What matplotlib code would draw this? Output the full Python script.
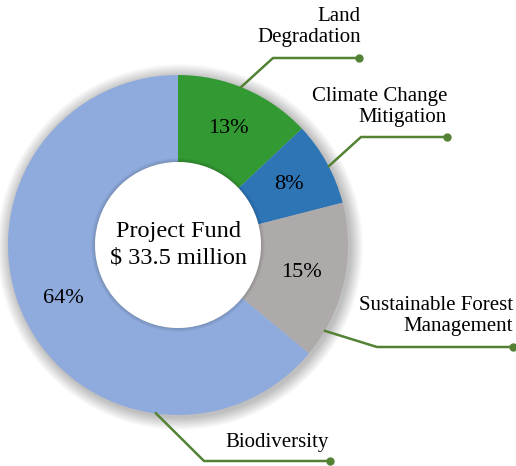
import numpy as np
import matplotlib
matplotlib.use('Agg')
import matplotlib.pyplot as plt
from matplotlib.patches import Circle

# Project fund shares by focal area
areas = ["Land\nDegradation", "Climate Change\nMitigation",
         "Sustainable Forest\nManagement", "Biodiversity"]
shares = [13, 8, 15, 64]
colors = ["#339933", "#2E75B6", "#AEAAAA", "#8FAADC"]
center_label = "Project Fund\n$ 33.5 million"

# leader-line layout: anchor angle on rim, elbow point, end point, text anchor
anchor_deg = [68.4, 27.5, -30.4, -97.8]
elbows = [(273, 58), (361, 137), (377, 347), (204, 461)]
ends = [(359, 58), (447, 137), (513, 347), (330, 461)]
text_pos = [(361, 27), (447, 107), (513, 316), (329, 442)]

W, H = 516, 466
cx, cy, R = 178, 245, 170
hole = 83
line_green = "#548235"

plt.rcParams['font.family'] = ['Liberation Serif', 'DejaVu Serif']

fig = plt.figure(figsize=(W / 100, H / 100), dpi=100)
ax = fig.add_axes([0, 0, 1, 1])
ax.set_xlim(0, W)
ax.set_ylim(0, H)
ax.set_aspect('equal')
ax.axis('off')

# soft drop shadow behind the ring
for k in range(16):
    ax.add_patch(Circle((cx + 2, H - cy - 2), R + 1 + k * 0.8,
                        color='black', alpha=0.014, lw=0, zorder=0))

wedges, _ = ax.pie(shares, colors=colors, startangle=90, counterclock=False,
                   center=(cx, H - cy), radius=R, frame=True,
                   wedgeprops=dict(width=R - hole, linewidth=0))
for w in wedges:
    w.set_zorder(2)
ax.set_xlim(0, W)
ax.set_ylim(0, H)
ax.axis('off')

# white hole with a faint inner shadow
for k in range(8):
    ax.add_patch(Circle((cx, H - cy), hole + 4 - k * 0.5, color='black',
                        alpha=0.015, lw=0, zorder=3))
ax.add_patch(Circle((cx, H - cy), hole, color='white', lw=0, zorder=4))

# percentage labels at the middle of each ring segment
start = 90.0
r_mid = (R + hole) / 2
for s in shares:
    sweep = s / 100 * 360
    mid = np.radians(start - sweep / 2)
    ax.text(cx + r_mid * np.cos(mid), H - cy + r_mid * np.sin(mid), f"{s}%",
            ha='center', va='center', fontsize=16, zorder=5)
    start -= sweep

ax.text(cx, H - cy, center_label, ha='center', va='center', fontsize=17.5,
        linespacing=1.35, zorder=5)

# leader lines and category names
for name, a, el, en, tp in zip(areas, anchor_deg, elbows, ends, text_pos):
    t = np.radians(a)
    x0, y0 = cx + (R - 1) * np.cos(t), H - cy + (R - 1) * np.sin(t)
    ax.plot([x0, el[0], en[0]], [y0, H - el[1], H - en[1]], color=line_green,
            lw=1.8, zorder=6, solid_capstyle='butt')
    ax.plot(en[0], H - en[1], 'o', color=line_green, ms=5, zorder=7)
    ax.text(tp[0], H - tp[1], name, ha='right', va='center', fontsize=15,
            linespacing=1.2, multialignment='right', zorder=7)

fig.savefig("out.png", dpi=100)
